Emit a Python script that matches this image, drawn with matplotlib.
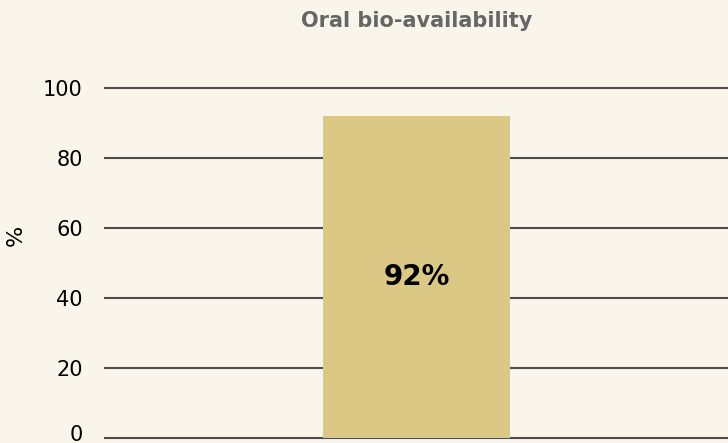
import matplotlib
matplotlib.use("Agg")
import matplotlib.pyplot as plt
import matplotlib.transforms as mtransforms

categories = ["Oral"]
values = [92]
bar_labels = ["92%"]
yticks = [0, 20, 40, 60, 80, 100]

bg = "#f9f5ea"
plt.rcParams["font.family"] = ["DejaVu Sans"]

fig = plt.figure(figsize=(7.28, 4.43), dpi=100, facecolor=bg)
ax = fig.add_axes([105 / 728, 5 / 443, 623 / 728, 350 / 443])
ax.set_facecolor(bg)

x = list(range(len(categories)))
bars = ax.bar(x, values, width=0.6, color="#dcc885", zorder=2)
for b, lab in zip(bars, bar_labels):
    ax.text(b.get_x() + b.get_width() / 2, b.get_height() / 2, lab,
            ha="center", va="center", fontsize=20, fontweight="bold",
            color="black", zorder=3)

ax.set_xlim(-1, 1)
ax.set_ylim(0, 100)
ax.set_yticks(yticks)
ax.set_xticks([])
ax.tick_params(axis="y", length=0, pad=16, labelsize=15)
# nudge the "0" label up so it stays inside the figure
shift = mtransforms.ScaledTranslation(0, 5 / 100, fig.dpi_scale_trans)
lab0 = ax.get_yticklabels()[0]
lab0.set_transform(lab0.get_transform() + shift)
ax.yaxis.grid(True, color="#4d4d4d", linewidth=1.5, zorder=1)
for gl in ax.get_ygridlines():
    gl.set_clip_on(False)
ax.set_axisbelow(True)
for s in ax.spines.values():
    s.set_visible(False)

ax.set_ylabel("%", fontsize=16)
ax.yaxis.set_label_coords(-0.128, 0.58)
fig.text(417 / 728, 1 - 21 / 443, "Oral bio-availability", ha="center",
         va="center", fontsize=15, fontweight="bold", color="#666666")

fig.savefig("out.png", dpi=100, facecolor=bg)
